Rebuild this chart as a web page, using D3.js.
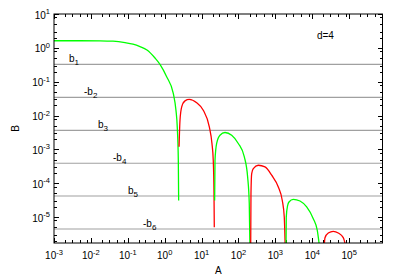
<!DOCTYPE html>
<html>
<head>
<meta charset="utf-8">
<script src="https://cdn.jsdelivr.net/npm/d3@7"></script>
<style>
  body { margin: 0; background: #fff; }
  text { font-family: "Liberation Sans", Arial, Helvetica, sans-serif; font-size: 10px; fill: #000; }
</style>
</head>
<body>
<svg width="399" height="279"></svg>
<script>
(function (d3) {
  'use strict';

  // axis ticks (decades)
  const xExponents = [-3, -2, -1, 0, 1, 2, 3, 4, 5];
  const yExponents = [-5, -4, -3, -2, -1, 0, 1];
  const minorSteps = [2, 3, 5, 8];

  // horizontal reference levels |b_n|
  const levelNames = ['b', '-b', 'b', '-b', 'b', '-b'];
  const levelValues = [0.325, 0.0343, 0.00363, 3.9e-4, 4.2e-5, 4.45e-6];
  const levelLabelX = [0.00255, 0.0065, 0.0156, 0.0398, 0.101, 0.258];

  // curve lobes: [A, B]
  const green1 = [
    [0.001, 1.62], [0.00507, 1.62], [0.0177, 1.61], [0.0397, 1.57], [0.084, 1.43],
    [0.138, 1.29], [0.214, 1.09], [0.331, 0.86], [0.546, 0.50], [0.746, 0.325],
    [1.13, 0.14], [1.71, 0.045], [2.02, 0.0144], [2.19, 0.00463], [2.34, 4.8e-4],
    [2.39, 3.1e-5]
  ];
  const red1 = [
    [2.45, 1.2e-3], [2.60, 7.3e-3], [2.89, 0.018], [3.55, 0.0272], [4.64, 0.0299],
    [7.36, 0.0238], [11.1, 0.0144], [16.2, 0.00463], [19.1, 1.5e-3], [20.7, 4.8e-4],
    [21.7, 5.06e-5], [22.1, 5.0e-6]
  ];
  const green2 = [
    [22.6, 3.1e-5], [23.1, 4.8e-4], [25.6, 1.5e-3], [31.5, 2.63e-3], [43.1, 3.16e-3],
    [65.4, 2.63e-3], [98.8, 1.5e-3], [144, 6e-4], [177, 1.53e-4], [196, 2.5e-5],
    [205, 1e-6]
  ];
  const red2 = [
    [214, 1e-6], [218, 5e-5], [228, 1.94e-4], [252, 2.72e-4], [344, 3.41e-4],
    [522, 3.04e-4], [794, 1.73e-4], [1200, 7.8e-5], [1538, 3.1e-5], [1742, 1e-5],
    [1854, 1e-6]
  ];
  const green3 = [
    [1937, 1e-6], [1972, 1e-5], [2153, 2.24e-5], [2337, 2.8e-5], [3055, 3.36e-5],
    [4645, 3.0e-5], [7047, 2.0e-5], [10640, 9e-6], [13670, 4.07e-6], [16180, 1e-6]
  ];
  const red3 = [
    [20750, 1e-6], [22090, 2.47e-6], [27160, 3.39e-6], [37070, 3.8e-6],
    [50700, 3.39e-6], [69200, 2.47e-6], [85500, 1e-6]
  ];

  const svg = d3.select('svg');
  const width = +svg.attr('width');
  const height = +svg.attr('height');
  const margin = { top: 14, right: 16.5, bottom: 36, left: 54 };
  const innerWidth = width - margin.left - margin.right;
  const innerHeight = height - margin.top - margin.bottom;

  const xScale = d3.scaleLog()
    .domain([1e-3, 8e5])
    .range([0, innerWidth]);

  const yScale = d3.scaleLog()
    .domain([1.72e-6, 10])
    .range([innerHeight, 0]);

  const g = svg.append('g')
    .attr('transform', `translate(${margin.left},${margin.top})`);

  g.append('clipPath').attr('id', 'plot-clip')
    .append('rect')
      .attr('width', innerWidth)
      .attr('height', innerHeight);

  // minor + major tick positions
  const minorOf = exps => {
    const out = [];
    exps.concat([exps[exps.length - 1] + 1]).forEach(e => {
      minorSteps.forEach(m => out.push(m * Math.pow(10, e)));
    });
    return out;
  };
  const xMinor = minorOf(xExponents).filter(v => v < 8e5);
  const yMinor = minorOf([-6].concat(yExponents)).filter(v => v > 1.72e-6 && v < 10);

  const ticks = g.append('g')
    .attr('stroke', '#000')
    .attr('stroke-width', 1)
    .attr('shape-rendering', 'crispEdges');

  const drawX = (vals, len) => {
    vals.forEach(v => {
      const x = Math.round(xScale(v)) + 0.5;
      ticks.append('line').attr('x1', x).attr('x2', x)
        .attr('y1', innerHeight).attr('y2', innerHeight - len);
      ticks.append('line').attr('x1', x).attr('x2', x)
        .attr('y1', 0).attr('y2', len);
    });
  };
  const drawY = (vals, len) => {
    vals.forEach(v => {
      const y = Math.round(yScale(v)) + 0.5;
      ticks.append('line').attr('y1', y).attr('y2', y)
        .attr('x1', 0).attr('x2', len);
      ticks.append('line').attr('y1', y).attr('y2', y)
        .attr('x1', innerWidth).attr('x2', innerWidth - len);
    });
  };
  drawX(xExponents.map(e => Math.pow(10, e)), 5);
  drawX(xMinor, 3);
  drawY(yExponents.map(e => Math.pow(10, e)), 5);
  drawY(yMinor, 3);

  // reference levels
  g.append('g')
    .selectAll('line').data(levelValues)
    .enter().append('line')
      .attr('x1', 0)
      .attr('x2', innerWidth)
      .attr('y1', d => yScale(d))
      .attr('y2', d => yScale(d))
      .attr('stroke', '#a0a0a0')
      .attr('stroke-width', 1.2);

  const lvlText = g.append('g')
    .selectAll('text').data(levelValues)
    .enter().append('text')
      .attr('x', (d, i) => xScale(levelLabelX[i]))
      .attr('y', d => yScale(d) - 2.5);
  lvlText.append('tspan').text((d, i) => levelNames[i]);
  lvlText.append('tspan')
    .attr('dy', 3)
    .style('font-size', '8px')
    .text((d, i) => i + 1);

  // curves
  const line = d3.line()
    .x(d => xScale(d[0]))
    .y(d => yScale(d[1]))
    .curve(d3.curveMonotoneX);

  const lobes = [
    { data: green1, color: '#00ff00' },
    { data: red1, color: '#ff0000' },
    { data: green2, color: '#00ff00' },
    { data: red2, color: '#ff0000' },
    { data: green3, color: '#00ff00' },
    { data: red3, color: '#ff0000' }
  ];

  g.append('g')
    .attr('clip-path', 'url(#plot-clip)')
    .selectAll('path').data(lobes)
    .enter().append('path')
      .attr('d', d => line(d.data))
      .attr('fill', 'none')
      .attr('stroke', d => d.color)
      .attr('stroke-width', 1.3);

  // frame
  g.append('rect')
    .attr('width', innerWidth)
    .attr('height', innerHeight)
    .attr('fill', 'none')
    .attr('stroke', '#000')
    .attr('stroke-width', 1);

  // tick labels
  const xLab = g.append('g')
    .selectAll('text').data(xExponents)
    .enter().append('text')
      .attr('x', d => xScale(Math.pow(10, d)))
      .attr('y', innerHeight + 16)
      .attr('text-anchor', 'middle');
  xLab.append('tspan').text('10');
  xLab.append('tspan')
    .attr('dy', -4.5)
    .style('font-size', '7.5px')
    .text(d => d);

  const yLab = g.append('g')
    .selectAll('text').data(yExponents)
    .enter().append('text')
      .attr('x', -4)
      .attr('y', d => yScale(Math.pow(10, d)) + 4.5)
      .attr('text-anchor', 'end');
  yLab.append('tspan').text('10');
  yLab.append('tspan')
    .attr('dy', -4.5)
    .style('font-size', '7.5px')
    .text(d => d);

  // axis titles and key
  g.append('text')
    .attr('x', innerWidth / 2)
    .attr('y', innerHeight + 31)
    .attr('text-anchor', 'middle')
    .text('A');

  g.append('text')
    .attr('transform', `translate(${19 - margin.left},${innerHeight / 2}) rotate(-90)`)
    .attr('text-anchor', 'middle')
    .text('B');

  g.append('text')
    .attr('x', xScale(13400))
    .attr('y', yScale(1.82))
    .text('d=4');

}(d3));
</script>
</body>
</html>
